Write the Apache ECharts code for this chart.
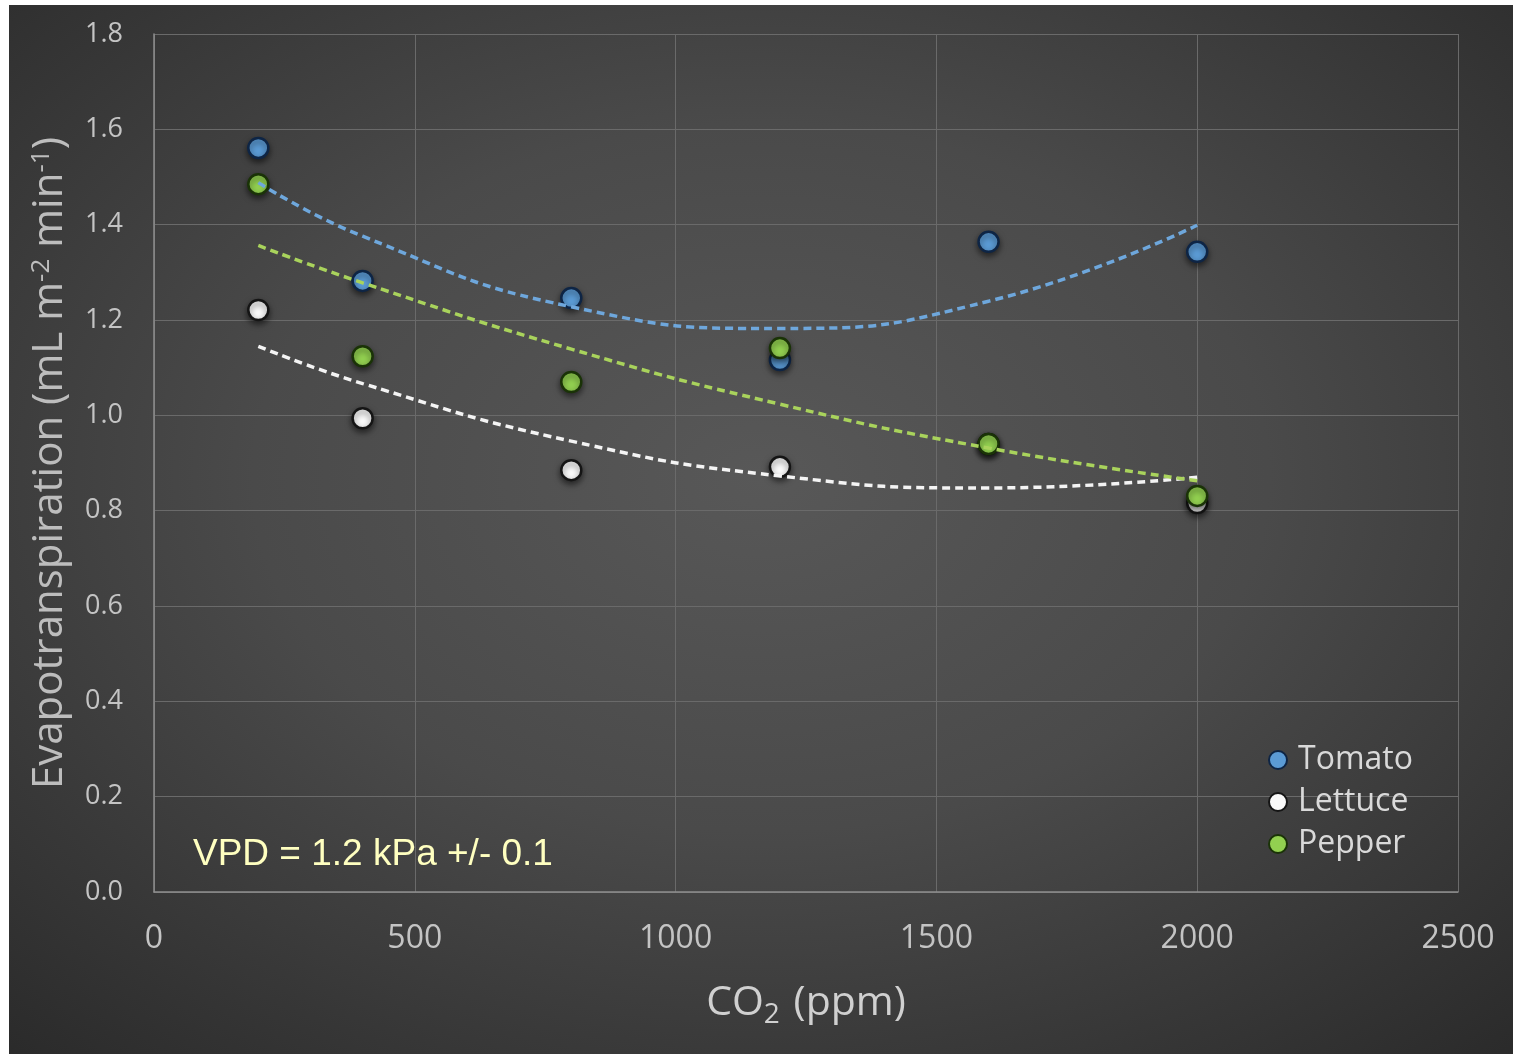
<!DOCTYPE html>
<html>
<head>
<meta charset="utf-8">
<script src="https://cdn.jsdelivr.net/npm/echarts@6/dist/echarts.min.js"></script>
<style>
  html, body { margin: 0; padding: 0; background: #ffffff; }
  #chart {
    position: absolute; left: 9px; top: 5px; width: 1504px; height: 1049px;
    background: radial-gradient(ellipse 75% 75% at 50% 45%, #585858 0%, #4a4a4a 45%, #2a2a2a 100%);
  }
</style>
</head>
<body>
<div id="chart"></div>
<script>
// ---- data ----
const co2 = [200, 400, 800, 1200, 1600, 2000];
const tomato  = [1.561, 1.282, 1.246, 1.116, 1.364, 1.343];
const lettuce = [1.221, 0.994, 0.885, 0.892, 0.940, 0.816];
const pepper  = [1.485, 1.124, 1.070, 1.141, 0.940, 0.831];
const seriesNames = ['Tomato', 'Lettuce', 'Pepper'];
const xTicks = [0, 500, 1000, 1500, 2000, 2500];
const yTicks = [0.0, 0.2, 0.4, 0.6, 0.8, 1.0, 1.2, 1.4, 1.6, 1.8];

// polynomial (order 2) least-squares trendline, as in the original chart
function quadFit(xs, ys) {
  let S = [0, 0, 0, 0, 0], T = [0, 0, 0];
  for (let i = 0; i < xs.length; i++) {
    const u = xs[i] / 1000;
    let p = 1;
    for (let k = 0; k < 5; k++) { S[k] += p; if (k < 3) T[k] += p * ys[i]; p *= u; }
  }
  const M = [[S[0], S[1], S[2], T[0]], [S[1], S[2], S[3], T[1]], [S[2], S[3], S[4], T[2]]];
  for (let c = 0; c < 3; c++) {
    for (let r = c + 1; r < 3; r++) {
      const f = M[r][c] / M[c][c];
      for (let k = c; k < 4; k++) M[r][k] -= f * M[c][k];
    }
  }
  const coef = [0, 0, 0];
  for (let r = 2; r >= 0; r--) {
    let s = M[r][3];
    for (let k = r + 1; k < 3; k++) s -= M[r][k] * coef[k];
    coef[r] = s / M[r][r];
  }
  return xs.map(x => { const u = x / 1000; return [x, coef[0] + coef[1] * u + coef[2] * u * u]; });
}
const pair = ys => co2.map((x, i) => [x, ys[i]]);

const fills   = ['#5b9bd5', '#fafafa', '#92d050'];
const borders = ['#0e2545', '#151515', '#1a3307'];
const trendColors = ['#6ea7dc', '#f4f4f4', '#a9d35c'];
const values = [tomato, lettuce, pepper];
const FONT = '"Open Sans", sans-serif';

const series = [];
values.forEach((ys, i) => {
  series.push({
    name: seriesNames[i], type: 'scatter', data: pair(ys), symbol: 'circle', symbolSize: 20, z: 3,
    itemStyle: { color: fills[i], opacity: 1, borderColor: borders[i], borderWidth: 2.5,
      shadowBlur: 6, shadowColor: 'rgba(0,0,0,0.55)', shadowOffsetY: 3 }
  });
});
values.forEach((ys, i) => {
  series.push({
    name: seriesNames[i] + ' trend', type: 'line', data: quadFit(co2, ys), smooth: true,
    showSymbol: false, symbol: 'none', z: 4, silent: true,
    lineStyle: { color: trendColors[i], width: 3.5, type: [8, 5] }
  });
});

const chart = echarts.init(document.getElementById('chart'), null, { renderer: 'canvas' });
chart.setOption({
  backgroundColor: 'transparent',
  animation: false,
  grid: { left: 145, top: 29, right: 55, bottom: 162, containLabel: false },
  legend: {
    data: seriesNames.map(n => ({ name: n, icon: 'circle' })),
    orient: 'vertical', left: 1254, top: 734, itemWidth: 30, itemHeight: 18, itemGap: 10,
    textStyle: { color: '#d9d9d9', fontFamily: FONT, fontSize: 32 }
  },
  xAxis: {
    type: 'value', min: xTicks[0], max: xTicks[xTicks.length - 1], interval: 500,
    name: '{a|CO}{s|2}{a| (ppm)}', nameLocation: 'middle', nameGap: 85,
    nameTextStyle: { rich: {
      a: { color: '#d0d0d0', fontFamily: FONT, fontSize: 41 },
      s: { color: '#d0d0d0', fontFamily: FONT, fontSize: 28, verticalAlign: 'bottom', padding: [24, 3, 0, 0] }
    } },
    axisLine: { show: true, lineStyle: { color: '#8e8e8e', width: 1.5 } },
    axisTick: { show: false },
    axisLabel: { color: '#c4c4c4', fontFamily: FONT, fontSize: 32, margin: 31, formatter: v => String(v) },
    splitLine: { show: true, lineStyle: { color: '#6a6a6a', width: 1 } }
  },
  yAxis: {
    type: 'value', min: yTicks[0], max: yTicks[yTicks.length - 1], interval: 0.2,
    name: '{a|Evapotranspiration (mL m}{s|-2}{a| min}{s|-1}{a|)}', nameLocation: 'middle', nameGap: 83, nameRotate: 90,
    nameTextStyle: { rich: {
      a: { color: '#bdbdbd', fontFamily: FONT, fontSize: 42 },
      s: { color: '#bdbdbd', fontFamily: FONT, fontSize: 26, verticalAlign: 'top' }
    } },
    axisLine: { show: true, lineStyle: { color: '#8e8e8e', width: 1.5 } },
    axisTick: { show: false },
    axisLabel: { color: '#c4c4c4', fontFamily: FONT, fontSize: 27, margin: 31, formatter: v => v.toFixed(1) },
    splitLine: { show: true, lineStyle: { color: '#6a6a6a', width: 1 } }
  },
  graphic: [{
    type: 'text', left: 184, top: 831, z: 10,
    style: { text: 'VPD = 1.2 kPa +/- 0.1', fill: '#ffffc0', font: '37px "Liberation Sans", Arial, sans-serif' }
  }],
  series: series
});
</script>
</body>
</html>
